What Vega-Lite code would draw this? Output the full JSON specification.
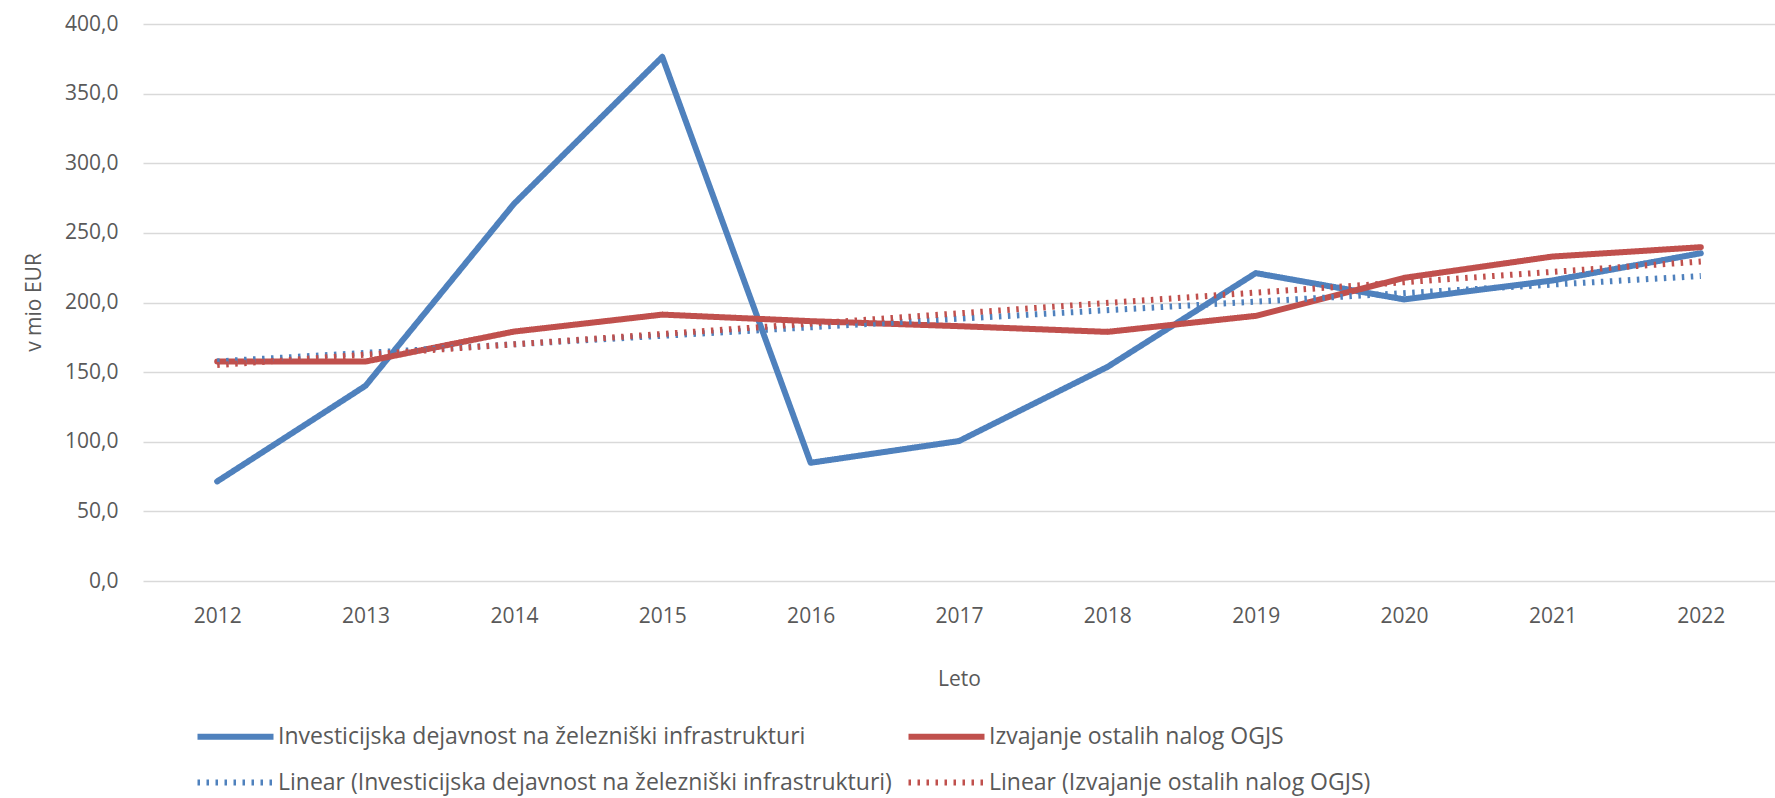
{
  "$schema": "https://vega.github.io/schema/vega-lite/v6.json",
  "width": 1632,
  "height": 557,
  "autosize": {"type": "none"},
  "padding": {"left": 143, "top": 24, "right": 0, "bottom": 217},
  "background": "white",
  "config": {
    "view": {"stroke": null},
    "font": "Open Sans"
  },
  "data": {
    "values": [
      {"year": "2012", "series": "Investicijska dejavnost na železniški infrastrukturi", "value": 71.5},
      {"year": "2013", "series": "Investicijska dejavnost na železniški infrastrukturi", "value": 140.2},
      {"year": "2014", "series": "Investicijska dejavnost na železniški infrastrukturi", "value": 270.8},
      {"year": "2015", "series": "Investicijska dejavnost na železniški infrastrukturi", "value": 376.4},
      {"year": "2016", "series": "Investicijska dejavnost na železniški infrastrukturi", "value": 84.9},
      {"year": "2017", "series": "Investicijska dejavnost na železniški infrastrukturi", "value": 100.5},
      {"year": "2018", "series": "Investicijska dejavnost na železniški infrastrukturi", "value": 153.7},
      {"year": "2019", "series": "Investicijska dejavnost na železniški infrastrukturi", "value": 221.1},
      {"year": "2020", "series": "Investicijska dejavnost na železniški infrastrukturi", "value": 202.2},
      {"year": "2021", "series": "Investicijska dejavnost na železniški infrastrukturi", "value": 215.8},
      {"year": "2022", "series": "Investicijska dejavnost na železniški infrastrukturi", "value": 235.4},
      {"year": "2012", "series": "Izvajanje ostalih nalog OGJS", "value": 157.6},
      {"year": "2013", "series": "Izvajanje ostalih nalog OGJS", "value": 157.6},
      {"year": "2014", "series": "Izvajanje ostalih nalog OGJS", "value": 179.1},
      {"year": "2015", "series": "Izvajanje ostalih nalog OGJS", "value": 191.3},
      {"year": "2016", "series": "Izvajanje ostalih nalog OGJS", "value": 186.6},
      {"year": "2017", "series": "Izvajanje ostalih nalog OGJS", "value": 183.0},
      {"year": "2018", "series": "Izvajanje ostalih nalog OGJS", "value": 178.9},
      {"year": "2019", "series": "Izvajanje ostalih nalog OGJS", "value": 190.4},
      {"year": "2020", "series": "Izvajanje ostalih nalog OGJS", "value": 217.7},
      {"year": "2021", "series": "Izvajanje ostalih nalog OGJS", "value": 233.0},
      {"year": "2022", "series": "Izvajanje ostalih nalog OGJS", "value": 239.7},
      {"year": "2012", "series": "Linear (Investicijska dejavnost na železniški infrastrukturi)", "value": 157.7},
      {"year": "2022", "series": "Linear (Investicijska dejavnost na železniški infrastrukturi)", "value": 219.0},
      {"year": "2012", "series": "Linear (Izvajanje ostalih nalog OGJS)", "value": 155.1},
      {"year": "2022", "series": "Linear (Izvajanje ostalih nalog OGJS)", "value": 229.4}
    ]
  },
  "encoding": {
    "x": {
      "field": "year",
      "type": "ordinal",
      "scale": {"type": "point", "padding": 0.5},
      "axis": {
        "title": "Leto",
        "labelAngle": 0,
        "domain": false,
        "ticks": false,
        "grid": false,
        "labelPadding": 24,
        "labelFontSize": 21,
        "labelColor": "#595959",
        "titleFontSize": 21,
        "titleFontWeight": "normal",
        "titleColor": "#595959",
        "titleY": 98,
        "titleBaseline": "middle"
      }
    },
    "y": {
      "field": "value",
      "type": "quantitative",
      "scale": {"domain": [0, 400]},
      "axis": {
        "title": "v mio EUR",
        "values": [0, 50, 100, 150, 200, 250, 300, 350, 400],
        "labelExpr": "replace(format(datum.value, '.1f'), '.', ',')",
        "domain": false,
        "ticks": false,
        "labelPadding": 25,
        "labelFontSize": 21,
        "labelColor": "#595959",
        "gridColor": "#d9d9d9",
        "gridWidth": 1.5,
        "titleFontSize": 21,
        "titleFontWeight": "normal",
        "titleColor": "#595959",
        "titleX": -109,
        "titleY": 278,
        "titleBaseline": "middle"
      }
    },
    "color": {
      "field": "series",
      "type": "nominal",
      "scale": {
        "domain": ["Investicijska dejavnost na železniški infrastrukturi", "Izvajanje ostalih nalog OGJS", "Linear (Investicijska dejavnost na železniški infrastrukturi)", "Linear (Izvajanje ostalih nalog OGJS)"],
        "range": ["#4f81bd", "#c0504d", "#4f81bd", "#c0504d"]
      },
      "legend": {
        "title": null,
        "orient": "none",
        "legendX": 80,
        "legendY": 700,
        "direction": "horizontal",
        "columns": 2,
        "padding": 0,
        "symbolType": "M-4,0H4",
        "symbolSize": 361,
        "labelFontSize": 23,
        "labelColor": "#595959",
        "labelOffset": 30,
        "labelLimit": 2000,
        "columnPadding": 4,
        "rowPadding": 21
      }
    },
    "strokeDash": {
      "field": "series",
      "type": "nominal",
      "scale": {
        "domain": ["Investicijska dejavnost na železniški infrastrukturi", "Izvajanje ostalih nalog OGJS", "Linear (Investicijska dejavnost na železniški infrastrukturi)", "Linear (Izvajanje ostalih nalog OGJS)"],
        "range": [[1, 0], [1, 0], [2.5, 6.5], [2.5, 6.5]]
      },
      "legend": {
        "title": null,
        "orient": "none",
        "legendX": 80,
        "legendY": 700,
        "direction": "horizontal",
        "columns": 2,
        "padding": 0,
        "symbolType": "M-4,0H4",
        "symbolSize": 361,
        "labelFontSize": 23,
        "labelColor": "#595959",
        "labelOffset": 30,
        "labelLimit": 2000,
        "columnPadding": 4,
        "rowPadding": 21
      }
    },
    "strokeWidth": {
      "field": "series",
      "type": "nominal",
      "scale": {
        "domain": ["Investicijska dejavnost na železniški infrastrukturi", "Izvajanje ostalih nalog OGJS", "Linear (Investicijska dejavnost na železniški infrastrukturi)", "Linear (Izvajanje ostalih nalog OGJS)"],
        "range": [6, 6, 3, 3]
      },
      "legend": {
        "title": null,
        "orient": "none",
        "legendX": 80,
        "legendY": 700,
        "direction": "horizontal",
        "columns": 2,
        "padding": 0,
        "symbolType": "M-4,0H4",
        "symbolSize": 361,
        "labelFontSize": 23,
        "labelColor": "#595959",
        "labelOffset": 30,
        "labelLimit": 2000,
        "columnPadding": 4,
        "rowPadding": 21
      }
    }
  },
  "layer": [
    {
      "transform": [{"filter": {"field": "series", "oneOf": ["Investicijska dejavnost na železniški infrastrukturi", "Izvajanje ostalih nalog OGJS"]}}],
      "mark": {"type": "line", "strokeCap": "round", "strokeJoin": "round"}
    },
    {
      "transform": [{"filter": {"field": "series", "oneOf": ["Linear (Investicijska dejavnost na železniški infrastrukturi)", "Linear (Izvajanje ostalih nalog OGJS)"]}}],
      "mark": {"type": "line", "strokeCap": "butt"}
    }
  ]
}
